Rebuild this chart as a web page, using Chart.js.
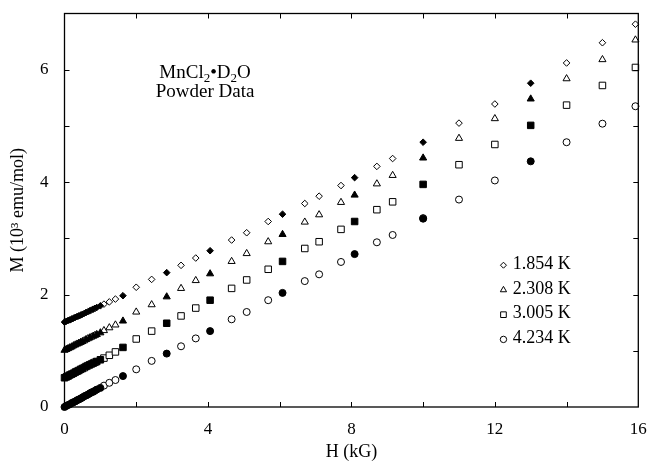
<!DOCTYPE html>
<html><head><meta charset="utf-8">
<script src="https://cdn.jsdelivr.net/npm/chart.js@4/dist/chart.umd.min.js"></script>
<style>html,body{margin:0;padding:0;background:#fff;}</style>
</head><body>
<canvas id="c" width="650" height="471"></canvas>
<script>
// ---- data (H in kG, M in 10^3 emu/mol, curves offset as in the original) ----
const temps = ['1.854 K', '2.308 K', '3.005 K', '4.234 K'];
const xTickLabels = [0, 4, 8, 12, 16];
const yTickLabels = [0, 2, 4, 6];

const hFilled = [0, 0.05, 0.1, 0.15, 0.2, 0.25, 0.3, 0.35, 0.4, 0.45, 0.5, 0.6, 0.7, 0.8, 0.9, 1.0, 1.63, 2.85, 4.06, 6.08, 8.09, 10.0, 13.0];
const hOpen = [0.55, 0.65, 0.75, 0.85, 1.1, 1.25, 1.42, 2.0, 2.43, 3.25, 3.66, 4.66, 5.08, 5.68, 6.7, 7.1, 7.71, 8.71, 9.15, 11.0, 12.0, 14.0, 15.0, 15.92];

const m1854Filled = [1.51, 1.525, 1.54, 1.55, 1.565, 1.58, 1.595, 1.61, 1.62, 1.635, 1.65, 1.68, 1.71, 1.74, 1.77, 1.80, 1.98, 2.39, 2.78, 3.43, 4.08, 4.71, 5.76];
const m1854Open = [1.665, 1.695, 1.725, 1.755, 1.83, 1.87, 1.92, 2.13, 2.27, 2.52, 2.65, 2.97, 3.10, 3.30, 3.62, 3.75, 3.94, 4.28, 4.42, 5.05, 5.39, 6.12, 6.48, 6.81];

const m2308Filled = [1.01, 1.025, 1.04, 1.055, 1.07, 1.09, 1.105, 1.12, 1.135, 1.15, 1.165, 1.20, 1.23, 1.26, 1.29, 1.32, 1.53, 1.96, 2.37, 3.07, 3.77, 4.43, 5.48];
const m2308Open = [1.18, 1.215, 1.245, 1.275, 1.36, 1.41, 1.46, 1.69, 1.82, 2.11, 2.25, 2.59, 2.73, 2.94, 3.29, 3.42, 3.64, 3.97, 4.12, 4.78, 5.13, 5.84, 6.18, 6.53];

const m3005Filled = [0.52, 0.535, 0.55, 0.57, 0.585, 0.60, 0.62, 0.635, 0.65, 0.67, 0.685, 0.72, 0.75, 0.78, 0.81, 0.84, 1.06, 1.49, 1.90, 2.59, 3.30, 3.96, 5.01];
const m3005Open = [0.70, 0.735, 0.765, 0.795, 0.87, 0.92, 0.98, 1.21, 1.35, 1.62, 1.76, 2.11, 2.26, 2.45, 2.82, 2.94, 3.16, 3.51, 3.65, 4.31, 4.67, 5.37, 5.72, 6.04];

const m4234Filled = [0.0, 0.02, 0.035, 0.05, 0.07, 0.085, 0.10, 0.12, 0.135, 0.15, 0.17, 0.205, 0.24, 0.27, 0.31, 0.34, 0.55, 0.95, 1.35, 2.03, 2.72, 3.35, 4.37];
const m4234Open = [0.19, 0.22, 0.26, 0.29, 0.38, 0.43, 0.48, 0.67, 0.82, 1.08, 1.22, 1.56, 1.69, 1.90, 2.24, 2.36, 2.58, 2.93, 3.06, 3.69, 4.03, 4.71, 5.04, 5.35];
const h4234Extra = [10.0];
const m4234Extra = [3.36];

// ---- build ----
const FONT = "'Liberation Serif', 'Times New Roman', serif";
const pts = (hs, ms) => hs.map((h, i) => ({x: h, y: ms[i]}));
const styles = ['rectRot', 'triangle', 'rect', 'circle'];
const radii = [3.3, 4.1, 4.6, 3.5];
const seriesOpen = [m1854Open, m2308Open, m3005Open, m4234Open];
const seriesFilled = [m1854Filled, m2308Filled, m3005Filled, m4234Filled];

const datasets = [];
for (let i = 0; i < 4; i++) {
  datasets.push({
    label: temps[i] + ' filled', data: pts(hFilled, seriesFilled[i]),
    pointStyle: styles[i], pointRadius: radii[i], pointBackgroundColor: '#000',
    pointBorderColor: '#000', pointBorderWidth: 1, showLine: false, clip: false
  });
  datasets.push({
    label: temps[i], data: pts(hOpen, seriesOpen[i]),
    pointStyle: styles[i], pointRadius: radii[i], pointBackgroundColor: '#fff',
    pointBorderColor: '#000', pointBorderWidth: 1, showLine: false, clip: false
  });
}
datasets.push({
  label: temps[3] + ' extra', data: pts(h4234Extra, m4234Extra),
  pointStyle: 'circle', pointRadius: 3.5, pointBackgroundColor: 'rgba(0,0,0,0)',
  pointBorderColor: '#000', pointBorderWidth: 1, showLine: false, clip: false
});

function drawMarker(ctx, style, x, y, r) {
  ctx.beginPath();
  if (style === 'rectRot') {
    ctx.moveTo(x - r, y); ctx.lineTo(x, y - r); ctx.lineTo(x + r, y); ctx.lineTo(x, y + r); ctx.closePath();
  } else if (style === 'triangle') {
    ctx.moveTo(x, y - r); ctx.lineTo(x + r * 0.866, y + r * 0.5); ctx.lineTo(x - r * 0.866, y + r * 0.5); ctx.closePath();
  } else if (style === 'rect') {
    const s = r * 0.7071; ctx.rect(x - s, y - s, 2 * s, 2 * s);
  } else {
    ctx.arc(x, y, r, 0, Math.PI * 2);
  }
  ctx.fillStyle = '#fff'; ctx.fill();
  ctx.strokeStyle = '#000'; ctx.lineWidth = 1; ctx.stroke();
}

const decor = {
  id: 'decor',
  beforeDraw(chart) {
    const ctx = chart.ctx;
    ctx.save(); ctx.fillStyle = '#fff'; ctx.fillRect(0, 0, chart.width, chart.height); ctx.restore();
  },
  afterDraw(chart) {
    const {ctx, chartArea: a, scales: {x, y}} = chart;
    ctx.save();
    ctx.strokeStyle = '#000';
    ctx.lineWidth = 1.3;
    ctx.strokeRect(a.left, a.top, a.right - a.left, a.bottom - a.top);
    ctx.lineWidth = 1;
    const tl = 5;
    for (let v = 2; v < 16; v += 2) {
      const px = Math.round(x.getPixelForValue(v)) + 0.5;
      ctx.beginPath();
      ctx.moveTo(px, a.bottom); ctx.lineTo(px, a.bottom - tl);
      ctx.moveTo(px, a.top); ctx.lineTo(px, a.top + tl);
      ctx.stroke();
    }
    for (let v = 1; v < 7; v++) {
      const py = Math.round(y.getPixelForValue(v)) + 0.5;
      ctx.beginPath();
      ctx.moveTo(a.left, py); ctx.lineTo(a.left + tl, py);
      ctx.moveTo(a.right, py); ctx.lineTo(a.right - tl, py);
      ctx.stroke();
    }
    // annotation
    const cx = x.getPixelForValue(3.92);
    const y1 = y.getPixelForValue(5.85);
    const y2 = y.getPixelForValue(5.52);
    const big = '19px ' + FONT, small = '13px ' + FONT;
    const parts = [['MnCl', 0], ['2', 1], ['\u2022D', 0], ['2', 1], ['O', 0]];
    let w = 0;
    parts.forEach(p => { ctx.font = p[1] ? small : big; w += ctx.measureText(p[0]).width; });
    let xx = cx - w / 2;
    ctx.fillStyle = '#000'; ctx.textBaseline = 'alphabetic'; ctx.textAlign = 'left';
    parts.forEach(p => {
      ctx.font = p[1] ? small : big;
      ctx.fillText(p[0], xx, y1 + (p[1] ? 4 : 0));
      xx += ctx.measureText(p[0]).width;
    });
    ctx.font = big; ctx.textAlign = 'center';
    ctx.fillText('Powder Data', cx, y2);
    // legend
    const legY = [2.54, 2.10, 1.66, 1.22];
    const mx = x.getPixelForValue(12.24), tx = x.getPixelForValue(12.5);
    ctx.font = '18px ' + FONT; ctx.textAlign = 'left'; ctx.textBaseline = 'middle';
    const legR = [3.0, 3.6, 4.0, 3.2];
    for (let i = 0; i < 4; i++) {
      const py = y.getPixelForValue(legY[i]);
      drawMarker(ctx, styles[i], mx, py + 1, legR[i]);
      ctx.fillStyle = '#000';
      ctx.fillText(temps[i], tx, py);
    }
    ctx.restore();
  }
};

new Chart(document.getElementById('c'), {
  type: 'scatter',
  data: {datasets},
  options: {
    responsive: false,
    animation: false,
    events: [],
    layout: {padding: {left: 0, right: 11.7, top: 13.5, bottom: 0}},
    plugins: {legend: {display: false}, tooltip: {enabled: false}},
    scales: {
      x: {
        type: 'linear', min: 0, max: 16,
        grid: {display: false, drawTicks: false},
        border: {display: false},
        ticks: {
          stepSize: 2, autoSkip: false, maxRotation: 0, padding: 12, color: '#000',
          font: {family: FONT, size: 17},
          callback: v => xTickLabels.includes(v) ? String(v) : ''
        },
        title: {display: true, text: 'H (kG)', color: '#000', font: {family: FONT, size: 18}, padding: {top: 0, bottom: 8}},
        afterFit: s => { s.height = 64; s.paddingLeft = 0; s.paddingRight = 0; }
      },
      y: {
        type: 'linear', min: 0, max: 7,
        grid: {display: false, drawTicks: false},
        border: {display: false},
        ticks: {
          stepSize: 1, autoSkip: false, padding: 16, color: '#000',
          font: {family: FONT, size: 17},
          callback: v => yTickLabels.includes(v) ? String(v) : ''
        },
        title: {display: true, text: 'M (10\u00B3 emu/mol)', color: '#000', font: {family: FONT, size: 18}, padding: {top: 7, bottom: 0}},
        afterFit: s => { s.width = 64.5; s.paddingTop = 0; s.paddingBottom = 0; }
      }
    }
  },
  plugins: [decor]
});
</script>
</body></html>
